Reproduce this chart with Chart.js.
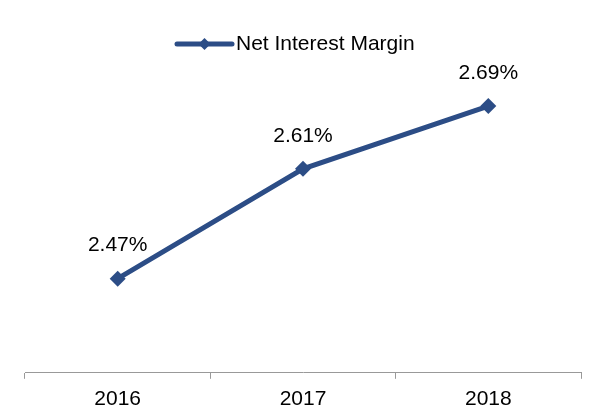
<!DOCTYPE html>
<html>
<head>
<meta charset="utf-8">
<script src="https://cdn.jsdelivr.net/npm/chart.js@4"></script>
<style>
  html, body { margin: 0; padding: 0; background: #fff; }
  #wrap { width: 602px; height: 410px; }
</style>
</head>
<body>
<div id="wrap"><canvas id="chart" width="602" height="410"></canvas></div>
<script>
var years = ["2016", "2017", "2018"];
var nim = [2.47, 2.61, 2.69];
var seriesName = "Net Interest Margin";

var blue = "#2C4D86";
var font = "'Liberation Sans', Arial, sans-serif";

// legend drawn by hand: line with a diamond, then the series name
var lineLegend = {
    id: "lineLegend",
    afterDraw: function(chart)
    {
        var ctx = chart.ctx;
        var y = 44, x0 = 177, x1 = 232;
        var mid = (x0 + x1) / 2;
        ctx.save();
        ctx.strokeStyle = blue;
        ctx.lineWidth = 5;
        ctx.lineCap = "round";
        ctx.beginPath();
        ctx.moveTo(x0, y); ctx.lineTo(x1, y);
        ctx.stroke();
        ctx.fillStyle = blue;
        ctx.beginPath();
        ctx.moveTo(mid, y - 6); ctx.lineTo(mid + 6, y); ctx.lineTo(mid, y + 6); ctx.lineTo(mid - 6, y);
        ctx.closePath();
        ctx.fill();
        ctx.font = "21px " + font;
        ctx.fillStyle = "#000";
        ctx.textAlign = "left";
        ctx.textBaseline = "middle";
        ctx.fillText(seriesName, x1 + 4, y);
        ctx.restore();
    }
};

// value labels above points
var valueLabels = {
    id: "valueLabels",
    afterDatasetsDraw: function(chart)
    {
        var ctx = chart.ctx;
        var meta = chart.getDatasetMeta(0);
        ctx.save();
        ctx.font = "21px " + font;
        ctx.fillStyle = "#000";
        ctx.textAlign = "center";
        ctx.textBaseline = "middle";
        meta.data.forEach(function(pt, i) {
            ctx.fillText(nim[i].toFixed(2) + "%", pt.x, pt.y - 33);
        });
        ctx.restore();
    }
};

new Chart(document.getElementById("chart").getContext("2d"), {
    type: "line",
    data: {
        labels: years,
        datasets: [{
            label: seriesName,
            data: nim,
            borderColor: blue,
            backgroundColor: blue,
            borderWidth: 5,
            pointStyle: "rectRot",
            pointRadius: 8,
            pointHoverRadius: 8,
            pointBackgroundColor: blue,
            pointBorderWidth: 0,
            tension: 0
        }]
    },
    options: {
        responsive: false,
        animation: false,
        layout: { padding: { left: 25, right: 21, top: 59, bottom: -10 } },
        plugins: {
            tooltip: { enabled: false },
            legend: { display: false }
        },
        scales: {
            x: {
                offset: true,
                grid: { offset: true, drawOnChartArea: false, drawTicks: true, tickLength: 6, color: "#999999", lineWidth: 1 },
                border: { display: true, color: "#999999", width: 1 },
                ticks: { color: "#000", padding: 8, font: { size: 21, family: font } }
            },
            y: {
                display: false,
                min: 2.35,
                max: 2.75
            }
        }
    },
    plugins: [valueLabels, lineLegend]
});
</script>
</body>
</html>
